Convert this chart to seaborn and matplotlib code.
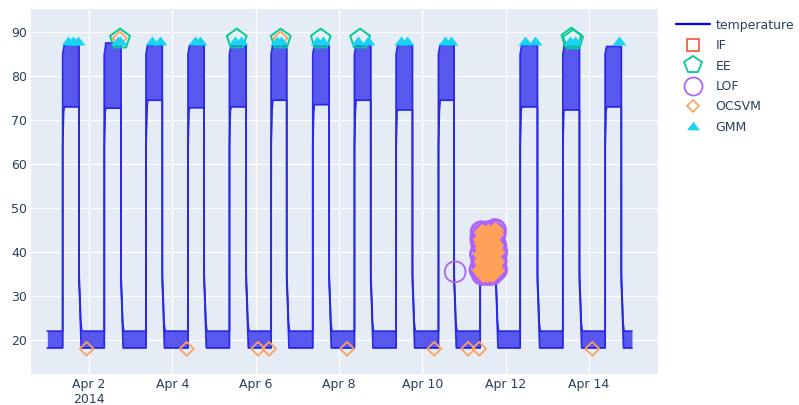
import numpy as np
import pandas as pd
import matplotlib
matplotlib.use("Agg")
import matplotlib.pyplot as plt
from matplotlib.lines import Line2D
import seaborn as sns

# ---- machine temperature: one warm cycle per working day ----
cycle_days = ["2014-04-01", "2014-04-02", "2014-04-03", "2014-04-04", "2014-04-05",
              "2014-04-06", "2014-04-07", "2014-04-08", "2014-04-09", "2014-04-10",
              "2014-04-11", "2014-04-12", "2014-04-13", "2014-04-14"]
rise_hour = [8.85, 8.8, 8.85, 9.05, 8.9, 8.9, 8.9, 8.9, 8.9, 9.3, 9.3, 8.35, 8.95, 9.3]
fall_hour = [18.25, 18.4, 18.2, 18.3, 18.5, 17.9, 18.3, 18.3, 18.3, 18.3, 18.3, 18.3, 18.5, 18.6]
warm_top = [87.0, 87.5, 87.0, 87.0, 87.0, 87.0, 87.0, 87.0, 87.0, 87.0, 44.0, 87.0, 87.5, 86.7]
warm_bottom = [73.0, 72.7, 74.5, 72.8, 73.0, 74.5, 73.5, 74.5, 72.3, 74.5, 35.0, 73.0, 72.3, 73.0]
idle_top = 22.0
idle_bottom = 18.2
series_start = "2014-04-01 00:00"
series_end = "2014-04-15 00:45"

# warm-up edge (hours after switch-on) and cool-down tail (hours after switch-off)
rise_offset_h = [0.02, 0.5]
rise_upper = [85.0, 86.0]
rise_lower = [64.0, 72.0]
settle_h = 0.9
fall_offset_h = [0.02, 0.5, 1.0, 1.3, 1.6]
fall_upper = [35.0, 30.0, 24.0, 23.0, 22.0]
fall_lower = [33.0, 28.5, 22.5, 18.2, 18.2]

# ---- detector flags ----
if_times, if_values = [], []

ee_times = ["2014-04-02 17:53", "2014-04-05 13:06", "2014-04-06 14:28", "2014-04-07 13:30",
            "2014-04-08 12:10", "2014-04-13 13:50", "2014-04-13 14:50"]
ee_values = [88.4, 88.4, 88.4, 88.4, 88.4, 88.6, 88.2]

lof_times = ["2014-04-10 18:55"]
lof_values = [35.5]

ocsvm_times = ["2014-04-01 22:40", "2014-04-02 17:40", "2014-04-04 08:18", "2014-04-06 01:23",
               "2014-04-06 07:43", "2014-04-06 14:20", "2014-04-08 04:40", "2014-04-10 06:49",
               "2014-04-11 02:24", "2014-04-11 08:45", "2014-04-14 01:55"]
ocsvm_values = [18.0, 88.6, 18.0, 18.0, 18.0, 88.6, 18.0, 18.0, 18.0, 18.0, 18.0]

# reduced-load run on Apr 11, flagged by both LOF and OCSVM
low_run_day = "2014-04-11"
low_run_hours = [9.5, 9.7, 9.9, 10.1, 10.3, 10.5, 10.7, 10.9, 11.1, 11.3, 11.5,
                 11.7, 11.9, 12.1, 12.3, 12.5, 12.7, 12.9, 13.1, 13.3, 13.5, 13.7,
                 13.9, 14.1, 14.3, 14.5, 14.7, 14.9, 15.1, 15.3, 15.5, 15.7, 15.9,
                 16.1, 16.3, 16.5, 16.7, 16.9, 17.1, 17.3, 17.5, 17.7, 17.9, 18.1,
                 18.3, 18.5, 18.6]
low_run_values = [36.0, 39.5, 43.0, 44.5, 42.0, 38.0, 35.0, 37.5, 41.0, 44.0, 43.0,
                  39.0, 35.5, 36.0, 40.0, 43.5, 44.0, 40.5, 37.0, 35.0, 38.0, 42.0,
                  44.5, 42.5, 38.5, 35.5, 36.5, 40.5, 43.5, 43.0, 39.5, 36.0, 35.0,
                  38.5, 42.5, 44.5, 42.0, 38.0, 35.5, 37.0, 41.0, 44.0, 45.0, 41.5,
                  38.0, 36.0, 40.0]

gmm_times = ["2014-04-01 11:54", "2014-04-01 14:48", "2014-04-01 17:42",
             "2014-04-02 16:40", "2014-04-02 17:35",
             "2014-04-03 12:06", "2014-04-03 16:54",
             "2014-04-04 13:06", "2014-04-04 16:00",
             "2014-04-05 12:06", "2014-04-05 15:36",
             "2014-04-06 12:18", "2014-04-06 14:36",
             "2014-04-07 11:24", "2014-04-07 14:54",
             "2014-04-08 11:00", "2014-04-08 16:42",
             "2014-04-09 12:00", "2014-04-09 15:24",
             "2014-04-10 13:06", "2014-04-10 16:36",
             "2014-04-12 11:12", "2014-04-12 17:00",
             "2014-04-13 13:12", "2014-04-13 16:00",
             "2014-04-14 17:24"]
gmm_values = [87.8] * len(gmm_times)

x_ticks = ["2014-04-02", "2014-04-04", "2014-04-06", "2014-04-08",
           "2014-04-10", "2014-04-12", "2014-04-14"]
x_tick_labels = ["Apr 2\n2014", "Apr 4", "Apr 6", "Apr 8", "Apr 10", "Apr 12", "Apr 14"]
y_ticks = [20, 30, 40, 50, 60, 70, 80, 90]
x_range = ["2014-03-31 14:36", "2014-04-15 15:45"]
y_range = [12.27, 95.23]

# ---- colours ----
line_blue = "#2828e6"
band_blue = "#5858ef"
c_if, c_ee, c_lof, c_ocsvm, c_gmm = "#EF553B", "#00CC96", "#AB63FA", "#FFA15A", "#19D3F3"
text_col = "#2a3f5f"

# ---- build the temperature envelope (upper/lower trace of the fast oscillation) ----
hrs = lambda h: pd.Timedelta(hours=h)
env_t, env_up, env_lo = [], [], []


def add_point(t, up, lo):
    env_t.append(t)
    env_up.append(up)
    env_lo.append(lo)


add_point(pd.Timestamp(series_start), idle_top, idle_bottom)
for d, rh, fh, top, bot in zip(cycle_days, rise_hour, fall_hour, warm_top, warm_bottom):
    day = pd.Timestamp(d)
    on = day + hrs(rh)
    add_point(on, idle_top, idle_bottom)
    for off, u, l in zip(rise_offset_h, rise_upper, rise_lower):
        add_point(on + hrs(off), min(u, top), min(l, bot))
    add_point(on + hrs(settle_h), top, bot)
    off_t = day + hrs(fh)
    add_point(off_t, top, bot)
    for off, u, l in zip(fall_offset_h, fall_upper, fall_lower):
        add_point(off_t + hrs(off), u, l)
add_point(pd.Timestamp(series_end), idle_top, idle_bottom)

temp = pd.DataFrame({"time": env_t, "upper": env_up, "lower": env_lo})

# ---- figure ----
sns.set_theme(style="darkgrid")
plt.rcParams["font.family"] = ["DejaVu Sans"]
fig = plt.figure(figsize=(7.99, 4.05), dpi=100)
ax = fig.add_axes([31 / 799, 1 - 374 / 405, (658 - 31) / 799, (374 - 9) / 405])
ax.set_facecolor("#E5ECF6")
for s in ax.spines.values():
    s.set_visible(False)
ax.grid(True, color="white", linewidth=1.0)

ax.fill_between(temp["time"], temp["lower"], temp["upper"], color=band_blue, linewidth=0, zorder=2)
sns.lineplot(data=temp, x="time", y="upper", estimator=None, sort=False,
             color=line_blue, linewidth=1.3, ax=ax, zorder=3)
sns.lineplot(data=temp, x="time", y="lower", estimator=None, sort=False,
             color=line_blue, linewidth=1.3, ax=ax, zorder=3)

# plotly-like wide up-triangle
tri = [(-1.155, -0.5), (1.155, -0.5), (0.0, 1.0), (-1.155, -0.5)]

lr_times = [pd.Timestamp(low_run_day) + hrs(h) for h in low_run_hours]

sns.scatterplot(x=pd.to_datetime(ee_times), y=ee_values, marker="p", s=225,
                facecolors="none", edgecolor=c_ee, linewidth=1.4, ax=ax, zorder=5)
sns.scatterplot(x=pd.to_datetime(lof_times), y=lof_values, marker="o", s=225,
                facecolors="none", edgecolor=c_lof, linewidth=1.3, ax=ax, zorder=6)
sns.scatterplot(x=lr_times, y=low_run_values, marker="o", s=225,
                facecolors="none", edgecolor=c_lof, linewidth=2.0, ax=ax, zorder=6)
sns.scatterplot(x=pd.to_datetime(ocsvm_times), y=ocsvm_values, marker="D", s=50,
                facecolors="none", edgecolor=c_ocsvm, linewidth=1.3, ax=ax, zorder=7)
# the dense run of diamonds overlaps into a solid patch
sns.scatterplot(x=lr_times, y=low_run_values, marker="D", s=60,
                facecolors=c_ocsvm, edgecolor=c_ocsvm, linewidth=1.3, ax=ax, zorder=7)
sns.scatterplot(x=pd.to_datetime(gmm_times), y=gmm_values, marker=tri, s=100,
                color=c_gmm, edgecolor=c_gmm, linewidth=0, ax=ax, zorder=8)

ax.set_xlim(pd.Timestamp(x_range[0]), pd.Timestamp(x_range[1]))
ax.set_ylim(*y_range)
ax.set_xticks(pd.to_datetime(x_ticks))
ax.set_xticklabels(x_tick_labels)
ax.set_yticks(y_ticks)
ax.set_yticklabels([str(v) for v in y_ticks])
ax.tick_params(axis="both", length=0, labelsize=9, labelcolor=text_col)
ax.tick_params(axis="x", pad=3)
ax.tick_params(axis="y", pad=3)
ax.set_xlabel("")
ax.set_ylabel("")
if ax.get_legend() is not None:
    ax.get_legend().remove()

handles = [
    Line2D([0], [0], color="blue", linewidth=1.6),
    Line2D([], [], marker="s", linestyle="none", markerfacecolor="none",
           markeredgecolor=c_if, markersize=8.4, markeredgewidth=1.2),
    Line2D([], [], marker="p", linestyle="none", markerfacecolor="none",
           markeredgecolor=c_ee, markersize=13, markeredgewidth=1.3),
    Line2D([], [], marker="o", linestyle="none", markerfacecolor="none",
           markeredgecolor=c_lof, markersize=13, markeredgewidth=1.3),
    Line2D([], [], marker="D", linestyle="none", markerfacecolor="none",
           markeredgecolor=c_ocsvm, markersize=5.8, markeredgewidth=1.2),
    Line2D([], [], marker=tri, linestyle="none", markerfacecolor=c_gmm,
           markeredgecolor=c_gmm, markersize=9.4, markeredgewidth=0),
]
labels = ["temperature", "IF", "EE", "LOF", "OCSVM", "GMM"]
leg = fig.legend(handles, labels, loc="upper left",
                 bbox_to_anchor=(676 / 799, 1 - 18.5 / 405),
                 frameon=False, fontsize=9, handlelength=2.72, handletextpad=0.45,
                 labelspacing=0.60, borderpad=0, borderaxespad=0)
for txt in leg.get_texts():
    txt.set_color(text_col)

fig.savefig("out.png", dpi=100)
